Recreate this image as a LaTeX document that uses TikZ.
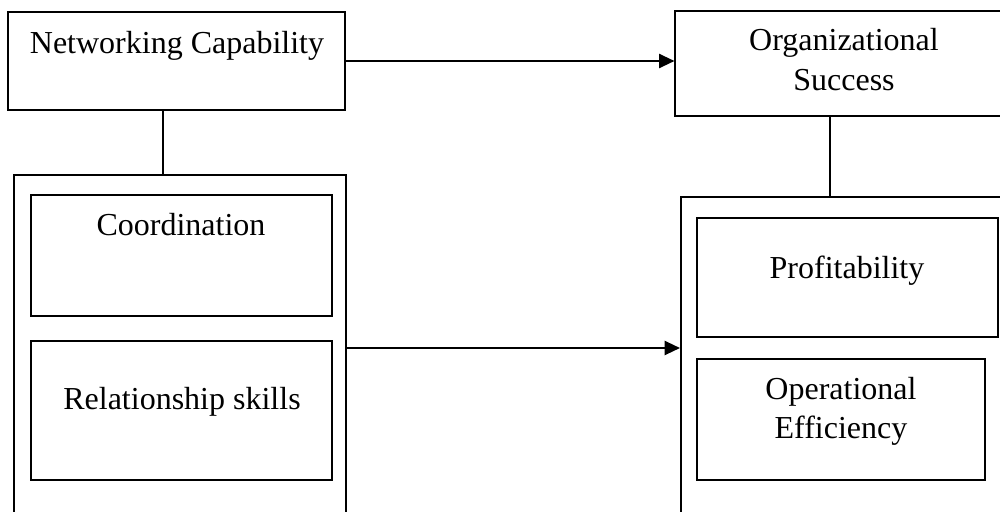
\documentclass[tikz,border=0pt]{standalone}
\usepackage{fontspec}
\setmainfont{Liberation Serif}
\usetikzlibrary{fit,arrows.meta}
\begin{document}
\begin{tikzpicture}[x=0.75pt,y=-0.75pt,
  thinbox/.style={draw, line width=0.8pt, inner sep=0pt},
  thickbox/.style={draw, line width=1.5pt, inner sep=0pt},
  lbl/.style={font=\fontsize{24}{28}\selectfont, inner sep=0pt, anchor=base},
  link/.style={line width=0.8pt},
  arr/.style={line width=1.6pt, -{Triangle[length=11.5pt,width=10.5pt]}}]
\path[use as bounding box] (0,0) rectangle (1000,511);
\clip (0,0) rectangle (1000,511);
% top boxes
\node[thinbox, fit={(8,12)(345,110)}] (net) {};
\node[lbl] (nett) at (177,53) {Networking Capability};
\node[thinbox, fit={(675,11)(1013,116)}] (org) {};
\node[lbl] (orgt1) at (844,50) {Organizational};
\node[lbl] (orgt2) at (844,90) {Success};
% left group
\node[thickbox, fit={(14,175)(346,521)}] (left) {};
\node[thickbox, fit={(31,195)(332,316)}] (coord) {};
\node[lbl] (coordt) at (181,235) {Coordination};
\node[thickbox, fit={(31,341)(332,480)}] (rel) {};
\node[lbl] (relt) at (182,409) {Relationship skills};
% right group
\node[thickbox, fit={(681,197)(1020,521)}] (right) {};
\node[thickbox, fit={(697,218)(998,337)}] (prof) {};
\node[lbl] (proft) at (847,278) {Profitability};
\node[thickbox, fit={(697,359)(985,480)}] (oper) {};
\node[lbl] (opert1) at (841,399) {Operational};
\node[lbl] (opert2) at (841,438) {Efficiency};
% connectors
\coordinate (nl) at (163,0);
\coordinate (ol) at (830,0);
\draw[link] (net.south -| nl) -- (left.north -| nl);
\draw[link] (org.south -| ol) -- (right.north -| ol);
\draw[arr] (net.east) -- (net.east -| org.west);
\draw[arr] (left.east) -- (left.east -| right.west);
\end{tikzpicture}
\end{document}
